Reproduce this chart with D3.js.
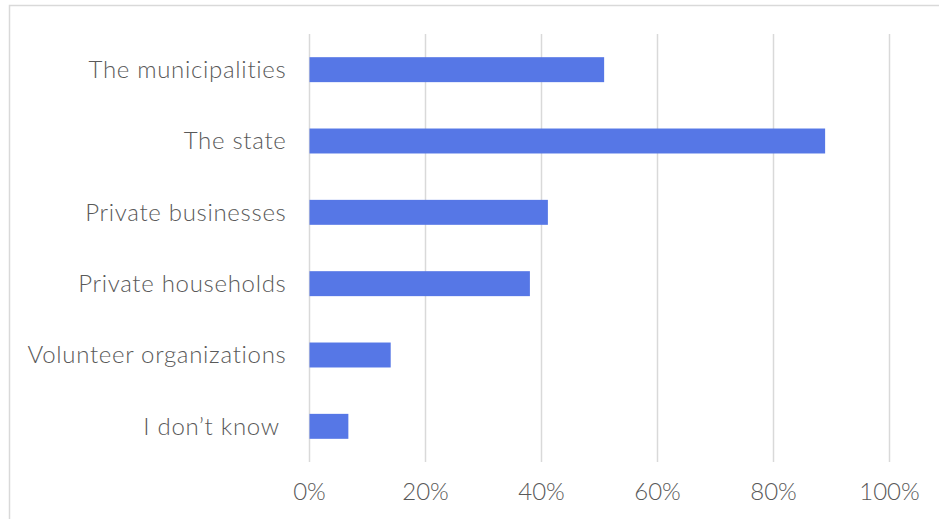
<!DOCTYPE html>
<html>
<head>
<meta charset="utf-8">
<script src="https://cdn.jsdelivr.net/npm/d3@7"></script>
<style>
  html, body { margin: 0; padding: 0; background: #fff; }
  svg { display: block; }
  text { font-family: Lato, "Open Sans", sans-serif; font-weight: 300; fill: #595959; white-space: pre; }
</style>
</head>
<body>
<svg id="chart" width="939" height="519"></svg>
<script>
// Who should be responsible — share of respondents per actor
const categories = ["The municipalities", "The state", "Private businesses", "Private households", "Volunteer organizations", "I don\u2019t know "];
const shares = [0.508, 0.889, 0.411, 0.380, 0.140, 0.067];
const tickValues = [0, 0.2, 0.4, 0.6, 0.8, 1.0];

const svg = d3.select("#chart");
const plot = { left: 309.5, right: 889.5, top: 34, bottom: 462 };

// outer frame of the chart area
svg.append("rect")
  .attr("x", 9.5).attr("y", 5.5)
  .attr("width", 1000).attr("height", 1000)
  .attr("fill", "none").attr("stroke", "#d9d9d9").attr("stroke-width", 1.5);

const x = d3.scaleLinear().domain([0, 1]).range([plot.left, plot.right]);
const y = d3.scaleBand().domain(categories).range([plot.top, plot.bottom]).paddingInner(0.65).paddingOuter(0.325);

// vertical gridlines
svg.append("g").selectAll("line").data(tickValues).join("line")
  .attr("x1", d => x(d)).attr("x2", d => x(d))
  .attr("y1", plot.top).attr("y2", plot.bottom)
  .attr("stroke", "#d9d9d9").attr("stroke-width", 1.5);

// bars
svg.append("g").selectAll("rect").data(categories).join("rect")
  .attr("x", x(0))
  .attr("y", d => y(d))
  .attr("width", (d, i) => x(shares[i]) - x(0))
  .attr("height", y.bandwidth())
  .attr("fill", "#5677e6");

// category labels
svg.append("g").selectAll("text").data(categories).join("text")
  .attr("x", x(0) - 23)
  .attr("y", d => y(d) + y.bandwidth() / 2)
  .attr("dy", "0.35em")
  .attr("text-anchor", "end")
  .attr("font-size", 24)
  .attr("letter-spacing", "0.7px")
  .text(d => d);

// x axis tick labels
const fmt = d3.format(".0%");
svg.append("g").selectAll("text").data(tickValues).join("text")
  .attr("x", d => x(d))
  .attr("y", 500)
  .attr("text-anchor", "middle")
  .attr("font-size", 24)
  .text(d => fmt(d));
</script>
</body>
</html>
